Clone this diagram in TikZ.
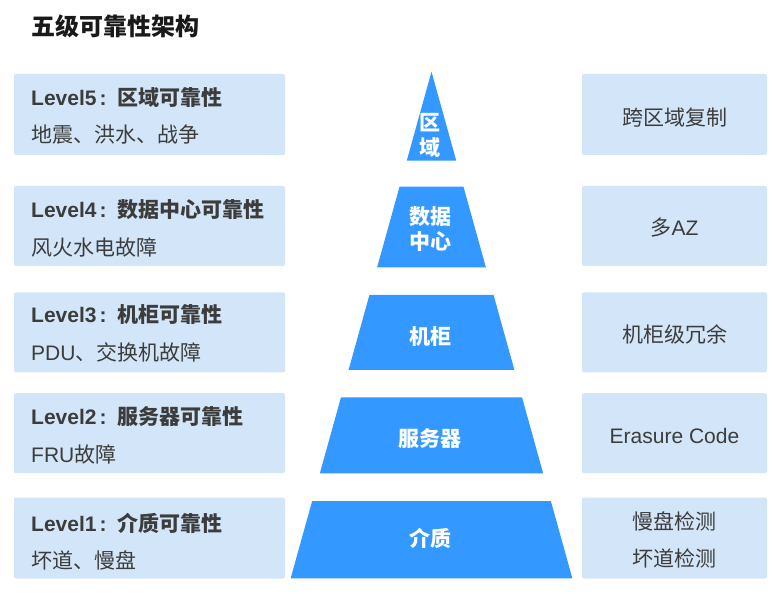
\documentclass[tikz,border=0pt]{standalone}
\usepackage{fontspec}
\setmainfont{Liberation Sans}
\newfontfamily\cjk{Noto Sans CJK SC}
\definecolor{boxblue}{RGB}{211,230,249}
\definecolor{pyrblue}{RGB}{51,152,255}
\definecolor{txtgray}{RGB}{60,60,60}
\newcommand\lvcolon{\hspace{3pt}:\hspace{10.5pt}}
\begin{document}
\begin{tikzpicture}[x=1pt,y=-1pt,
  lbox/.style={fill=boxblue,rounded corners=2pt,minimum width=271pt,inner sep=0pt},
  rbox/.style={fill=boxblue,rounded corners=2pt,minimum width=185pt,inner sep=0pt},
  head/.style={anchor=base west,inner sep=0pt,text=txtgray,font=\fontsize{21}{25}\selectfont\bfseries},
  sub/.style={anchor=base west,inner sep=0pt,text=txtgray,font=\fontsize{21}{25}\selectfont},
  rtext/.style={anchor=base,inner sep=0pt,text=txtgray,font=\fontsize{21}{25}\selectfont},
  ptext/.style={anchor=base,inner sep=0pt,text=white,font=\fontsize{21}{25}\selectfont\cjk\bfseries},
  pyr/.style={fill=pyrblue}]
\useasboundingbox (0,0) rectangle (779,601);
\fill[white] (0,0) rectangle (779,601);
% title
\node[anchor=base west,inner sep=0pt,font=\fontsize{24}{28}\selectfont\cjk\bfseries,text=black!90] (title) at (31,35.8) {五级可靠性架构};
% left boxes
\node[lbox,minimum height=81pt] (L5) at (149.5,114.5) {};
\node[lbox,minimum height=80pt] (L4) at (149.5,226) {};
\node[lbox,minimum height=80pt] (L3) at (149.5,332.4) {};
\node[lbox,minimum height=80pt] (L2) at (149.5,433.2) {};
\node[lbox,minimum height=81pt] (L1) at (149.5,538) {};
% right boxes
\node[rbox,minimum height=81pt] (R5) at (674.5,114.5) {};
\node[rbox,minimum height=80pt] (R4) at (674.5,226) {};
\node[rbox,minimum height=80pt] (R3) at (674.5,332.4) {};
\node[rbox,minimum height=80pt] (R2) at (674.5,433.2) {};
\node[rbox,minimum height=81pt] (R1) at (674.5,538) {};
% left texts
\node[head] (h5) at (31,105.5) {Level5\lvcolon{\cjk 区域可靠性}};
\node[sub]  (s5) at (31,143) {\cjk 地震、洪水、战争};
\node[head] (h4) at (31,218) {Level4\lvcolon{\cjk 数据中心可靠性}};
\node[sub]  (s4) at (31,256) {\cjk 风火水电故障};
\node[head] (h3) at (31,323) {Level3\lvcolon{\cjk 机柜可靠性}};
\node[sub]  (s3) at (31,360.5) {PDU{\cjk 、交换机故障}};
\node[head] (h2) at (31,424.5) {Level2\lvcolon{\cjk 服务器可靠性}};
\node[sub]  (s2) at (31,462) {FRU{\cjk 故障}};
\node[head] (h1) at (31,531.5) {Level1\lvcolon{\cjk 介质可靠性}};
\node[sub]  (s1) at (31,568) {\cjk 坏道、慢盘};
% right texts
\node[rtext] (r5) at (674.5,125.3) {\cjk 跨区域复制};
\node[rtext] (r4) at (674.5,236) {{\cjk 多}AZ};
\node[rtext] (r3) at (674.5,343) {\cjk 机柜级冗余};
\node[rtext] (r2) at (674.5,443) {Erasure Code};
\node[rtext] (r1a) at (674.5,529.7) {\cjk 慢盘检测};
\node[rtext] (r1b) at (674.5,566.3) {\cjk 坏道检测};
% pyramid
\newcommand\pyrlayer[2]{%
  \fill[pyr] ({431.5-0.278*(#1-71.7)},#1) -- ({431.5+0.278*(#1-71.7)},#1)
    -- ({431.5+0.278*(#2-71.7)},#2) -- ({431.5-0.278*(#2-71.7)},#2) -- cycle;}
\fill[pyr] (431.5,71.7) -- ({431.5+0.278*(160.7-71.7)},160.7) -- ({431.5-0.278*(160.7-71.7)},160.7) -- cycle;
\pyrlayer{186.7}{267.3}
\pyrlayer{295}{370}
\pyrlayer{397.3}{473.3}
\pyrlayer{501}{578.3}
\node[ptext] (p5a) at (430,131) {区};
\node[ptext] (p5b) at (430,156) {域};
\node[ptext] (p4a) at (430,224.5) {数据};
\node[ptext] (p4b) at (430,249.5) {中心};
\node[ptext] (p3) at (430,344.7) {机柜};
\node[ptext] (p2) at (430,446.3) {服务器};
\node[ptext] (p1) at (430,546.3) {介质};
\end{tikzpicture}
\end{document}
